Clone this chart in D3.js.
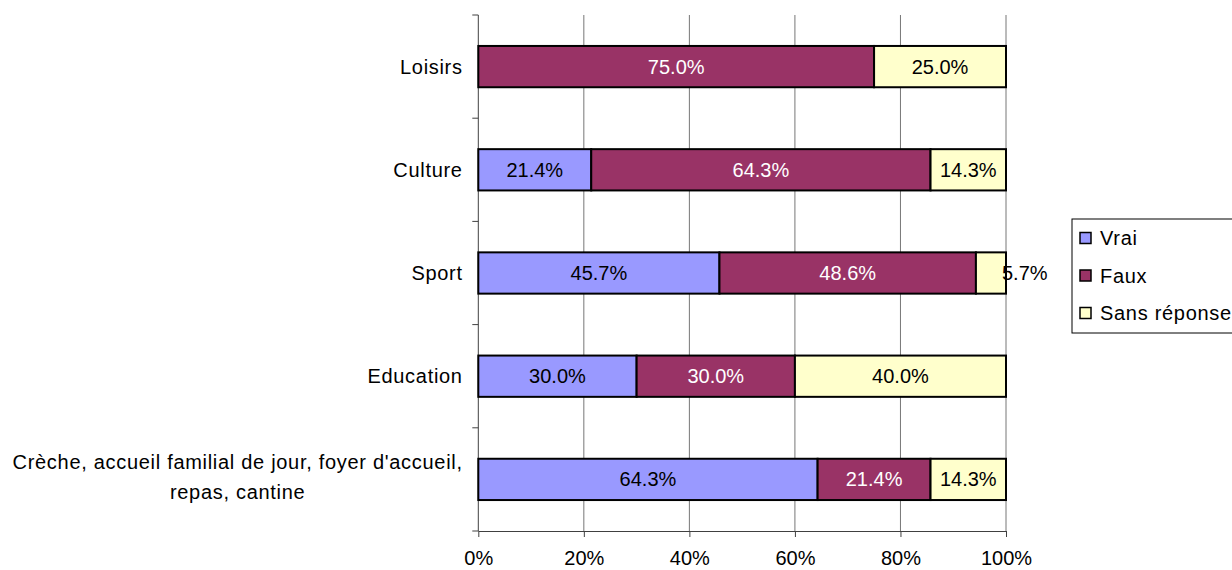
<!DOCTYPE html>
<html><head><meta charset="utf-8">
<script src="https://cdn.jsdelivr.net/npm/d3@7"></script>
<style>body{margin:0;background:#fff;} svg{display:block;font-family:"Liberation Sans",Arial,sans-serif;}</style>
</head><body><svg id="c" width="1232" height="570"></svg>
<script>
const categories = ["Loisirs","Culture","Sport","Education","Crèche, accueil familial de jour, foyer d'accueil,|repas, cantine"];
const seriesNames = ["Vrai","Faux","Sans réponse"];
const vrai = [0, 21.4, 45.7, 30.0, 64.3];
const faux = [75.0, 64.3, 48.6, 30.0, 21.4];
const sansReponse = [25.0, 14.3, 5.7, 40.0, 14.3];
const xTicks = [0,20,40,60,80,100];
const colors = ["#9999FF","#993366","#FFFFCC"];
const labelColors = ["#000","#fff","#000"];

(function(){
const svg = d3.select("#c");
const pL = 478.3, pR = 1006, pT = 15, pB = 531;
const FS = 20, LS = 0.7;
const x = d3.scaleLinear().domain([0,100]).range([pL,pR]);
const y = d3.scaleBand().domain(categories).range([pT,pB]).paddingInner(0.6).paddingOuter(0.3);

// gridlines
svg.append("g").selectAll("line").data(xTicks.slice(1)).join("line")
  .attr("x1",d=>x(d)).attr("x2",d=>x(d)).attr("y1",pT).attr("y2",pB)
  .attr("stroke","#777").attr("stroke-width",1);

// x axis
const xa = svg.append("g").attr("transform",`translate(0,${pB})`)
  .call(d3.axisBottom(x).tickValues(xTicks).tickFormat(d=>d+"%").tickSize(6).tickSizeOuter(0));
xa.select(".domain").attr("stroke","#404040");
xa.selectAll(".tick line").attr("stroke","#404040");
xa.selectAll("text").attr("font-size",FS).attr("font-family","Liberation Sans, Arial, sans-serif")
  .attr("fill","#000").attr("y",27).attr("dy","0.35em");

// y axis line + ticks at band boundaries
svg.append("line").attr("x1",pL).attr("x2",pL).attr("y1",pT).attr("y2",pB).attr("stroke","#404040");
const bounds = d3.range(categories.length+1).map(i=>pT + i*(pB-pT)/categories.length);
svg.append("g").selectAll("line").data(bounds).join("line")
  .attr("x1",pL-6).attr("x2",pL).attr("y1",d=>d).attr("y2",d=>d).attr("stroke","#404040");

// category labels
categories.forEach(c=>{
  const lines = c.split("|");
  const cy = y(c)+y.bandwidth()/2;
  if(lines.length===1){
    svg.append("text").attr("font-size",FS).attr("fill","#000").attr("letter-spacing",LS)
      .attr("x",462+LS).attr("y",cy).attr("dy","0.35em").attr("text-anchor","end").text(lines[0]);
  } else {
    const tmp = svg.append("text").attr("font-size",FS).attr("letter-spacing",LS).text(lines[0]);
    const w = tmp.node().getComputedTextLength(); tmp.remove();
    const cx = 462 + LS - w/2;
    lines.forEach((l,i)=>{
      svg.append("text").attr("font-size",FS).attr("fill","#000").attr("text-anchor","middle").attr("letter-spacing",LS)
        .attr("x",cx).attr("y",cy - 2.5 + (i-0.5)*30 ).attr("dy","0.35em").text(l);
    });
  }
});

// stacked bars
const data = categories.map((c,i)=>({cat:c, Vrai:vrai[i], Faux:faux[i], "Sans réponse":sansReponse[i]}));
const stack = d3.stack().keys(seriesNames)(data);
stack.forEach((s,si)=>{
  const g = svg.append("g");
  s.forEach(d=>{
    const v = d[1]-d[0];
    if(v<=0) return;
    const x0 = x(d[0]), x1 = x(d[1]);
    const yy = y(d.data.cat);
    g.append("rect").attr("x",x0).attr("y",yy).attr("width",x1-x0).attr("height",y.bandwidth())
      .attr("fill",colors[si]).attr("stroke","#000").attr("stroke-width",2);
    const label = v.toFixed(1)+"%";
    const narrow = (x1-x0) < 40;
    g.append("text").attr("font-size",FS).attr("fill",labelColors[si])
      .attr("x", narrow ? x1-4 : (x0+x1)/2)
      .attr("text-anchor", narrow ? "start" : "middle")
      .attr("y", yy+y.bandwidth()/2).attr("dy","0.35em").text(label);
  });
});

// legend
const lg = svg.append("g");
lg.append("rect").attr("x",1072).attr("y",219).attr("width",170).attr("height",114)
  .attr("fill","#fff").attr("stroke","#000").attr("stroke-width",1);
seriesNames.forEach((n,i)=>{
  const cy = 238 + i*37.5;
  lg.append("rect").attr("x",1080).attr("y",cy-5.5).attr("width",11).attr("height",11)
    .attr("fill",colors[i]).attr("stroke","#000").attr("stroke-width",1.5);
  lg.append("text").attr("x",1100).attr("y",cy).attr("dy","0.35em").attr("font-size",FS).attr("letter-spacing",LS).attr("fill","#000").text(n);
});
})();
</script></body></html>
